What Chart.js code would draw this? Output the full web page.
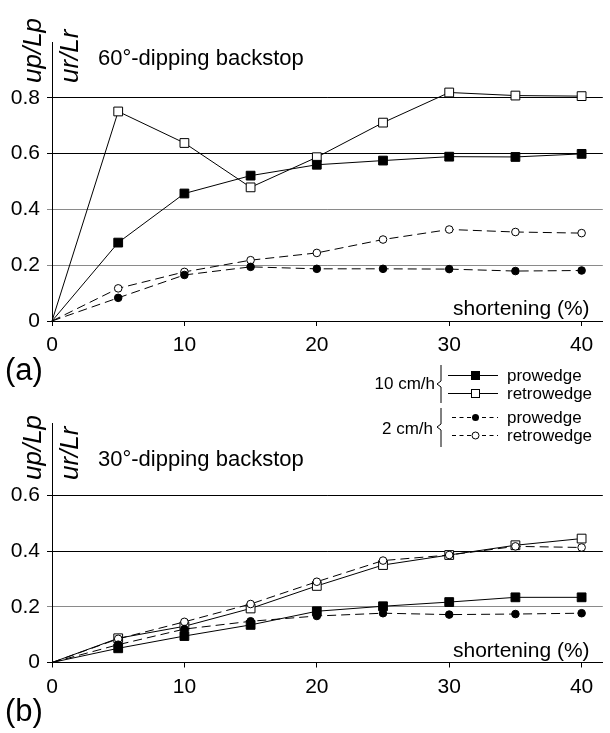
<!DOCTYPE html>
<html lang="en">
<head>
<meta charset="UTF-8">
<title>Uplift vs shortening</title>
<script src="https://cdn.jsdelivr.net/npm/chart.js"></script>
<style>
  body { margin: 0; background: #fff; }
  #page { position: relative; width: 610px; height: 733px; overflow: hidden;
          font-family: "Liberation Sans", Arial, sans-serif; color: #000; }
  canvas { position: absolute; left: 0; }
  .txt { position: absolute; white-space: nowrap; line-height: 1; }
  .ylab { position: absolute; white-space: nowrap; line-height: 1; font-style: italic;
          font-size: 26px; transform-origin: 0 0; transform: rotate(-90deg); }
  svg { position: absolute; left: 0; top: 0; }
</style>
</head>
<body>
<div id="page">
  <canvas id="chartA" width="610" height="395" style="top:0"></canvas>
  <canvas id="chartB" width="610" height="338" style="top:395px"></canvas>

  <div class="ylab" style="left:19px; top:83px">up/Lp</div>
  <div class="ylab" style="left:56px; top:83px">ur/Lr</div>
  <div class="txt" style="left:98px; top:47px; font-size:22px">60°-dipping backstop</div>
  <div class="txt" style="left:453px; top:297px; font-size:21px">shortening (%)</div>
  <div class="txt" style="left:5px; top:354px; font-size:31px">(a)</div>

  <div class="ylab" style="left:19px; top:480px">up/Lp</div>
  <div class="ylab" style="left:56px; top:480px">ur/Lr</div>
  <div class="txt" style="left:98px; top:448px; font-size:22px">30°-dipping backstop</div>
  <div class="txt" style="left:453px; top:639px; font-size:21px">shortening (%)</div>
  <div class="txt" style="left:5px; top:695px; font-size:31px">(b)</div>

  <!-- legend -->
  <svg width="610" height="733" font-family="Liberation Sans, Arial, sans-serif" font-size="17">
    <text x="435" y="389" text-anchor="end">10 cm/h</text>
    <path d="M441,365 V381 L437,384 L441,387 V403" fill="none" stroke="#000" stroke-width="1"/>
    <line x1="448" y1="375.5" x2="498" y2="375.5" stroke="#000"/>
    <rect x="471" y="371" width="9" height="9" fill="#000"/>
    <text x="507" y="381">prowedge</text>
    <line x1="448" y1="393.5" x2="498" y2="393.5" stroke="#000"/>
    <rect x="471.5" y="389.5" width="8" height="8" fill="#fff" stroke="#000"/>
    <text x="507" y="399">retrowedge</text>

    <text x="433" y="434" text-anchor="end">2 cm/h</text>
    <path d="M441,408 V424 L437,427 L441,430 V447" fill="none" stroke="#000" stroke-width="1"/>
    <line x1="452" y1="417.5" x2="498" y2="417.5" stroke="#000" stroke-dasharray="4,3.5"/>
    <circle cx="475.5" cy="417.5" r="3.5" fill="#000"/>
    <text x="507" y="423">prowedge</text>
    <line x1="452" y1="435.5" x2="498" y2="435.5" stroke="#000" stroke-dasharray="4,3.5"/>
    <circle cx="475.5" cy="435.5" r="3.5" fill="#fff" stroke="#000"/>
    <text x="507" y="441">retrowedge</text>
  </svg>
</div>

<script>
// shortening (%) at each measurement
const shortening = [0, 5, 10, 15, 20, 25, 30, 35, 40];

// (a) 60° dipping backstop
const aPro10   = [0, 0.281, 0.457, 0.521, 0.560, 0.575, 0.589, 0.588, 0.599];
const aRetro10 = [0, 0.751, 0.638, 0.479, 0.587, 0.711, 0.819, 0.808, 0.806];
const aPro2    = [0, 0.083, 0.165, 0.194, 0.187, 0.187, 0.186, 0.179, 0.181];
const aRetro2  = [0, 0.117, 0.176, 0.218, 0.244, 0.292, 0.328, 0.319, 0.315];

// (b) 30° dipping backstop
const bPro10   = [0, 0.051, 0.095, 0.135, 0.184, 0.202, 0.217, 0.234, 0.234];
const bRetro10 = [0, 0.087, 0.130, 0.194, 0.275, 0.350, 0.386, 0.421, 0.445];
const bPro2    = [0, 0.064, 0.120, 0.148, 0.167, 0.177, 0.172, 0.174, 0.177];
const bRetro2  = [0, 0.085, 0.146, 0.210, 0.290, 0.366, 0.386, 0.417, 0.413];

const xTicks  = [0, 10, 20, 30, 40];
const yTicksA = [0, 0.2, 0.4, 0.6, 0.8];
const yTicksB = [0, 0.2, 0.4, 0.6];

const FONT = '"Liberation Sans", Arial, sans-serif';
Chart.defaults.color = '#000';
Chart.defaults.font.family = FONT;

function pts(ys) {
    return shortening.map((x, i) => ({ x: x, y: ys[i] }));
}

function series(ys, filled, square) {
    return {
        data: pts(ys),
        borderColor: '#000',
        borderWidth: 1,
        borderDash: square ? [] : [9, 5],
        pointStyle: square ? 'rect' : 'circle',
        pointRadius: c => c.dataIndex === 0 ? 0 : (square ? 6.2 : 3.8),
        pointBackgroundColor: filled ? '#000' : '#fff',
        pointBorderColor: '#000',
        pointBorderWidth: 1,
        tension: 0,
        clip: false
    };
}

function makeChart(id, sets, yMax, yTicks, greyLines, padTop, xHeight) {
    return new Chart(document.getElementById(id), {
        type: 'line',
        data: { datasets: sets },
        options: {
            responsive: false,
            animation: false,
            devicePixelRatio: 1,
            layout: { padding: { top: padTop, left: 0, right: 0, bottom: 0 } },
            plugins: { legend: { display: false }, tooltip: { enabled: false } },
            scales: {
                x: {
                    type: 'linear',
                    min: 0,
                    max: 41.6,
                    afterBuildTicks: s => { s.ticks = xTicks.map(v => ({ value: v })); },
                    afterFit: s => { s.height = xHeight; s.paddingLeft = 0; s.paddingRight = 0; },
                    ticks: { font: { size: 21 }, padding: 7, maxRotation: 0, autoSkip: false },
                    grid: { drawOnChartArea: false, tickLength: 5, color: '#000' },
                    border: { color: '#000', width: 1 }
                },
                y: {
                    min: 0,
                    max: yMax,
                    afterBuildTicks: s => { s.ticks = yTicks.map(v => ({ value: v })); },
                    afterFit: s => { s.width = 52; s.paddingTop = 0; s.paddingBottom = 0; },
                    ticks: { font: { size: 21 }, padding: 7 },
                    grid: {
                        tickLength: 5,
                        color: c => greyLines.includes(c.tick && c.tick.value) ? '#8a8a8a' : '#000'
                    },
                    border: { color: '#000', width: 1 }
                }
            }
        }
    });
}

makeChart('chartA', [
    series(aPro2, true, false),
    series(aRetro2, false, false),
    series(aPro10, true, true),
    series(aRetro10, false, true)
], 1.0, yTicksA, [0.2, 0.4], 42, 74);

makeChart('chartB', [
    series(bPro2, true, false),
    series(bRetro2, false, false),
    series(bPro10, true, true),
    series(bRetro10, false, true)
], 0.86, yTicksB, [0.2], 28, 70.5);
</script>
</body>
</html>
